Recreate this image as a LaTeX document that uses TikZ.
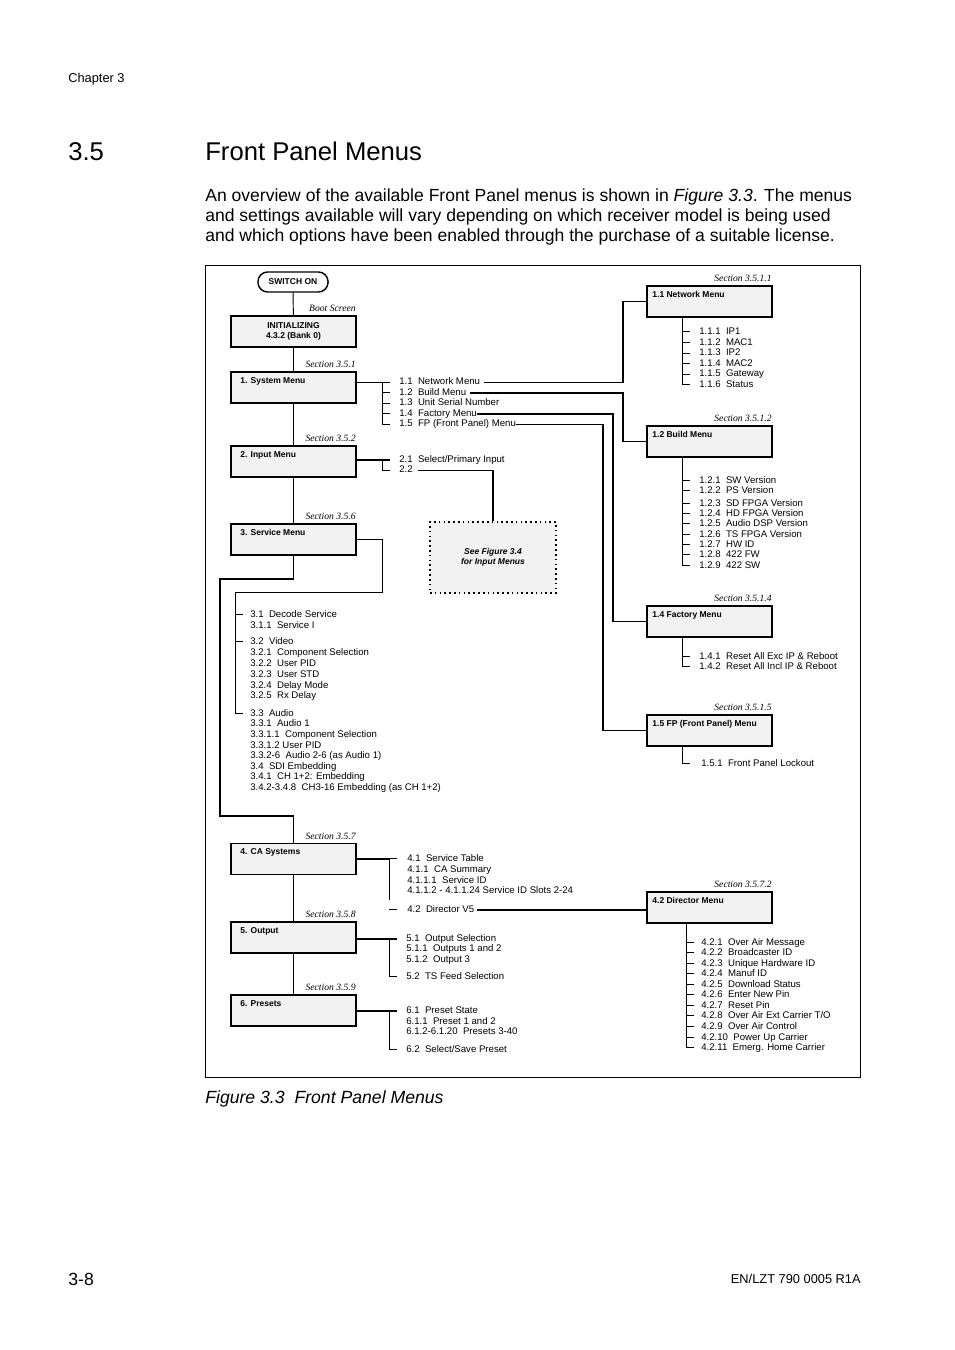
\documentclass[tikz,border=0pt]{standalone}
\usepackage{fontspec}
\setmainfont{Liberation Sans}
\newfontfamily\timesfont{Liberation Serif}
\definecolor{boxfill}{HTML}{F2F2F2}
\tikzset{
  menubox/.style={draw, line width=1.1pt, fill=boxfill, minimum width=78pt, minimum height=19.3pt, inner sep=0pt},
  boxtitle/.style={anchor=north west, inner sep=0pt, font=\fontsize{5.3}{6.2}\selectfont\bfseries},
  secref/.style={anchor=base east, inner sep=0pt, font=\timesfont\itshape\fontsize{6}{7}\selectfont},
  item/.style={anchor=west, inner sep=0pt, yshift=-1.2pt, text height=4.3pt, text depth=1.2pt, font=\fontsize{6}{7}\selectfont},
  pagetext/.style={anchor=base west, inner sep=0pt},
  link/.style={line width=0.9pt},
  tree/.style={line width=0.6pt}
}
\begin{document}
\begin{tikzpicture}[x=0.6237pt, y=-0.6237pt]
\useasboundingbox (0,0) rectangle (954,1350);
\fill[white] (0,0) rectangle (954,1350);

% page text
\node[pagetext, font=\fontsize{8}{9}\selectfont] (chapter) at (68,83) {Chapter 3};
\node[pagetext, font=\fontsize{16}{19}\selectfont] (secnum) at (68,161) {3.5};
\node[pagetext, font=\fontsize{16}{19}\selectfont] (sectitle) at (205,161) {Front Panel Menus};
\node[pagetext, font=\fontsize{10.95}{13}\selectfont] (intro-1) at (205,202) {An overview of the available Front Panel menus is shown in \textit{Figure 3.3}. The menus};
\node[pagetext, font=\fontsize{10.95}{13}\selectfont] (intro-2) at (205,222) {and settings available will vary depending on which receiver model is being used};
\node[pagetext, font=\fontsize{10.95}{13}\selectfont] (intro-3) at (205,242) {and which options have been enabled through the purchase of a suitable license.};
\node[pagetext, font=\fontsize{11}{13}\selectfont\itshape] (caption) at (205,1103) {Figure 3.3~~Front Panel Menus};
\node[pagetext, font=\fontsize{11}{13}\selectfont] (pageno) at (68,1285) {3-8};
\node[anchor=base east, inner sep=0pt, font=\fontsize{8}{9}\selectfont] (docno) at (861,1283) {EN/LZT 790 0005 R1A};

% figure frame
\draw[line width=0.5pt] (205,265) rectangle (860,1077);

% main column
\node[draw, rounded corners=6pt, line width=0.9pt, minimum width=43.7pt, minimum height=12.5pt, inner sep=0pt, font=\fontsize{5.3}{6}\selectfont\bfseries] (swon) at (293,282) {SWITCH ON};
\node[menubox] (init) at (293.5,331.5) {};
\node[menubox] (sys) at (293.5,387.5) {};
\node[menubox] (inp) at (293.5,461.5) {};
\node[menubox] (svc) at (293.5,539.5) {};
\node[menubox] (ca) at (293.5,859) {};
\node[menubox] (out) at (293.5,937.5) {};
\node[menubox] (pre) at (293.5,1010.5) {};

\node[boxtitle, anchor=north, align=center] (init-t) at ([shift={(0,7)}]init.north) {INITIALIZING\\4.3.2 (Bank 0)};
\node[boxtitle] (sys-t) at ([shift={(10,6)}]sys.north west) {1. System Menu};
\node[boxtitle] (inp-t) at ([shift={(10,6)}]inp.north west) {2. Input Menu};
\node[boxtitle] (svc-t) at ([shift={(10,6)}]svc.north west) {3. Service Menu};
\node[boxtitle] (ca-t) at ([shift={(10,6)}]ca.north west) {4. CA Systems};
\node[boxtitle] (out-t) at ([shift={(10,6)}]out.north west) {5. Output};
\node[boxtitle] (pre-t) at ([shift={(10,6)}]pre.north west) {6. Presets};

\node[secref] (init-s) at ([shift={(-1,-3.5)}]init.north east) {Boot Screen};
\node[secref] (sys-s) at ([shift={(-1,-3.5)}]sys.north east) {Section 3.5.1};
\node[secref] (inp-s) at ([shift={(-1,-3.5)}]inp.north east) {Section 3.5.2};
\node[secref] (svc-s) at ([shift={(-1,-3.5)}]svc.north east) {Section 3.5.6};
\node[secref] (ca-s) at ([shift={(-1,-3.5)}]ca.north east) {Section 3.5.7};
\node[secref] (out-s) at ([shift={(-1,-3.5)}]out.north east) {Section 3.5.8};
\node[secref] (pre-s) at ([shift={(-1,-3.5)}]pre.north east) {Section 3.5.9};

\draw[tree] (swon) -- (init);
\draw[tree] (init) -- (sys);
\draw[tree] (sys) -- (inp);
\draw[tree] (inp) -- (svc);
\draw[tree] (ca) -- (out);
\draw[tree] (out) -- (pre);
\draw[link] (svc.south) -- ++(0,23) -| (220,816) -| (ca.north);

% right column
\node[menubox] (net) at (709.5,301.5) {};
\node[menubox] (bld) at (709.5,441.5) {};
\node[menubox] (fac) at (709.5,621.5) {};
\node[menubox] (fp) at (709.5,730.5) {};
\node[menubox] (dir) at (709.5,907.5) {};

\node[boxtitle] (net-t) at ([shift={(6,6)}]net.north west) {1.1 Network Menu};
\node[boxtitle] (bld-t) at ([shift={(6,6)}]bld.north west) {1.2 Build Menu};
\node[boxtitle] (fac-t) at ([shift={(6,6)}]fac.north west) {1.4 Factory Menu};
\node[boxtitle] (fp-t) at ([shift={(6,6)}]fp.north west) {1.5 FP (Front Panel) Menu};
\node[boxtitle] (dir-t) at ([shift={(6,6)}]dir.north west) {4.2 Director Menu};

\node[secref] (net-s) at ([shift={(-1,-3.5)}]net.north east) {Section 3.5.1.1};
\node[secref] (bld-s) at ([shift={(-1,-3.5)}]bld.north east) {Section 3.5.1.2};
\node[secref] (fac-s) at ([shift={(-1,-3.5)}]fac.north east) {Section 3.5.1.4};
\node[secref] (fp-s) at ([shift={(-1,-3.5)}]fp.north east) {Section 3.5.1.5};
\node[secref] (dir-s) at ([shift={(-1,-3.5)}]dir.north east) {Section 3.5.7.2};

% 1. System Menu
\foreach \i/\y/\t in {1/380.5/{1.1~~Network Menu}, 2/391/{1.2~~Build Menu}, 3/401.5/{1.3~~Unit Serial Number}, 4/412/{1.4~~Factory Menu}, 5/422.5/{1.5~~FP (Front Panel) Menu}}
  \node[item] (sys-\i) at (399,\y) {\t};
\draw[link] (sys.east |- sys-1.west) -- ([shift={(-9,0)}]sys-1.west);
\draw[tree] ([shift={(-17,0)}]sys-1.west) |- ([shift={(-9,0)}]sys-5.west);
\foreach \i in {2,3,4}
  \draw[tree] ([shift={(-17,0)}]sys-\i.west) -- ++(8,0);

\coordinate (netbus) at (623,0);
\coordinate (facbus) at (613,0);
\coordinate (fpbus) at (603,0);
\draw[link] ([xshift=2pt]sys-1.east) -- (sys-1.east -| netbus) |- (net.west);
\draw[link] ([xshift=2pt]sys-2.east) -- (sys-2.east -| netbus) |- (bld.west);
\draw[link] (sys-4.east) -- (sys-4.east -| facbus) |- (fac.west);
\draw[link] (sys-5.east) -- (sys-5.east -| fpbus) |- (fp.west);

% 1.1 Network Menu
\foreach \i/\y/\t in {1/330/{1.1.1~~IP1}, 2/341/{1.1.2~~MAC1}, 3/351.5/{1.1.3~~IP2}, 4/362/{1.1.4~~MAC2}, 5/372.5/{1.1.5~~Gateway}, 6/383/{1.1.6~~Status}}
  \node[item] (net-\i) at (699,\y) {\t};
\coordinate (net-tr) at ([shift={(-17,0)}]net-1.west);
\draw[tree] (net-tr |- net.south) |- ([shift={(-9,0)}]net-6.west);
\foreach \i in {1,...,5}
  \draw[tree] ([shift={(-17,0)}]net-\i.west) -- ++(8,0);

% 1.2 Build Menu
\foreach \i/\y/\t in {1/479/{1.2.1~~SW Version}, 2/489/{1.2.2~~PS Version}, 3/502/{1.2.3~~SD FPGA Version}, 4/512/{1.2.4~~HD FPGA Version}, 5/522/{1.2.5~~Audio DSP Version}, 6/533/{1.2.6~~TS FPGA Version}, 7/543/{1.2.7~~HW ID}, 8/553/{1.2.8~~422 FW}, 9/564/{1.2.9~~422 SW}}
  \node[item] (bld-\i) at (699,\y) {\t};
\coordinate (bld-tr) at ([shift={(-17,0)}]bld-1.west);
\draw[tree] (bld-tr |- bld.south) |- ([shift={(-9,0)}]bld-9.west);
\foreach \i in {1,...,8}
  \draw[tree] ([shift={(-17,0)}]bld-\i.west) -- ++(8,0);

% 1.4 Factory Menu
\foreach \i/\y/\t in {1/655/{1.4.1~~Reset All Exc IP \& Reboot}, 2/665/{1.4.2~~Reset All Incl IP \& Reboot}}
  \node[item] (fac-\i) at (699,\y) {\t};
\coordinate (fac-tr) at ([shift={(-17,0)}]fac-1.west);
\draw[tree] (fac-tr |- fac.south) |- ([shift={(-9,0)}]fac-2.west);
\draw[tree] ([shift={(-17,0)}]fac-1.west) -- ++(8,0);

% 1.5 FP Menu
\node[item] (fp-1) at (701,762) {1.5.1~~Front Panel Lockout};
\coordinate (fp-tr) at ([shift={(-19,0)}]fp-1.west);
\draw[tree] (fp-tr |- fp.south) |- ([shift={(-11,0)}]fp-1.west);

% 2. Input Menu
\foreach \i/\y/\t in {1/458/{2.1~~Select/Primary Input}, 2/468.5/{2.2}}
  \node[item] (inp-\i) at (399,\y) {\t};
\draw[link] (inp.east |- inp-1.west) -- ([shift={(-9,0)}]inp-1.west);
\draw[tree] ([shift={(-17,0)}]inp-1.west) |- ([shift={(-9,0)}]inp-2.west);
\node[draw, dotted, line width=1pt, fill=boxfill, minimum width=78.6pt, minimum height=44.3pt, inner sep=0pt, align=center, font=\fontsize{5.3}{6}\selectfont\bfseries\itshape] (seefig) at (493,557.5) {See Figure 3.4\\for Input Menus};
\draw[link] ([xshift=3pt]inp-2.east) -| (seefig.north);

% 3. Service Menu
\foreach \i/\y/\t in {31/613/{3.1~~Decode Service}, 311/624/{3.1.1~~Service I}, 32/640/{3.2~~Video}, 321/651/{3.2.1~~Component Selection}, 322/662/{3.2.2~~User PID}, 323/673/{3.2.3~~User STD}, 324/684/{3.2.4~~Delay Mode}, 325/694/{3.2.5~~Rx Delay}, 33/712/{3.3~~Audio}, 331/722/{3.3.1~~Audio 1}, 3311/733/{3.3.1.1~~Component Selection}, 3312/744/{3.3.1.2 User PID}, 332/754/{3.3.2-6~~Audio 2-6 (as Audio 1)}, 34/765/{3.4~~SDI Embedding}, 341/775/{3.4.1~~CH 1+2: Embedding}, 342/786/{3.4.2-3.4.8~~CH3-16 Embedding (as CH 1+2)}}
  \node[item] (svc-\i) at (250,\y) {\t};
\coordinate (svc-tr) at (235,592);
\draw[tree] (svc.east) -- ++(26,0) |- (svc-tr);
\draw[tree] (svc-tr) |- ([shift={(-7,0)}]svc-33.west);
\foreach \i in {31,32}
  \draw[tree] ([shift={(-15,0)}]svc-\i.west) -- ++(8,0);

% 4. CA Systems
\foreach \i/\y/\t in {41/857/{4.1~~Service Table}, 411/868/{4.1.1~~CA Summary}, 4111/879/{4.1.1.1~~Service ID}, 4112/889/{4.1.1.2 - 4.1.1.24 Service ID Slots 2-24}, 42/908/{4.2~~Director V5}}
  \node[item] (ca-\i) at (407,\y) {\t};
\coordinate (ca-tr) at ([shift={(-18,0)}]ca-41.west);
\draw[link] (ca.east) -- (ca.east -| ca-tr);
\draw[tree] (ca-tr) -- ++(0,41);
\foreach \i in {41,42}
  \draw[tree] ([shift={(-18,0)}]ca-\i.west) -- ++(8,0);
\draw[link] ([xshift=1.5pt]ca-42.east) -- (ca-42.east -| dir.west);

% 4.2 Director Menu
\foreach \i/\y/\t in {1/941/{4.2.1~~Over Air Message}, 2/951/{4.2.2~~Broadcaster ID}, 3/962/{4.2.3~~Unique Hardware ID}, 4/972/{4.2.4~~Manuf ID}, 5/983/{4.2.5~~Download Status}, 6/993/{4.2.6~~Enter New Pin}, 7/1004/{4.2.7~~Reset Pin}, 8/1014/{4.2.8~~Over Air Ext Carrier T/O}, 9/1025/{4.2.9~~Over Air Control}, 10/1036/{4.2.10~~Power Up Carrier}, 11/1046/{4.2.11~~Emerg. Home Carrier}}
  \node[item] (dir-\i) at (701,\y) {\t};
\coordinate (dir-tr) at ([shift={(-15,0)}]dir-1.west);
\draw[tree] (dir-tr |- dir.south) |- ([shift={(-7,0)}]dir-11.west);
\foreach \i in {1,...,10}
  \draw[tree] ([shift={(-15,0)}]dir-\i.west) -- ++(8,0);

% 5. Output
\foreach \i/\y/\t in {51/937/{5.1~~Output Selection}, 511/947/{5.1.1~~Outputs 1 and 2}, 512/958/{5.1.2~~Output 3}, 52/975/{5.2~~TS Feed Selection}}
  \node[item] (out-\i) at (406,\y) {\t};
\draw[link] (out.east |- out-51.west) -- ([shift={(-9,0)}]out-51.west);
\draw[tree] ([shift={(-17,0)}]out-51.west) |- ([shift={(-9,0)}]out-52.west);

% 6. Presets
\foreach \i/\y/\t in {61/1009/{6.1~~Preset State}, 611/1020/{6.1.1~~Preset 1 and 2}, 612/1030/{6.1.2-6.1.20~~Presets 3-40}, 62/1048/{6.2~~Select/Save Preset}}
  \node[item] (pre-\i) at (406,\y) {\t};
\draw[link] (pre.east |- pre-61.west) -- ([shift={(-9,0)}]pre-61.west);
\draw[tree] ([shift={(-17,0)}]pre-61.west) |- ([shift={(-9,0)}]pre-62.west);

\end{tikzpicture}
\end{document}
